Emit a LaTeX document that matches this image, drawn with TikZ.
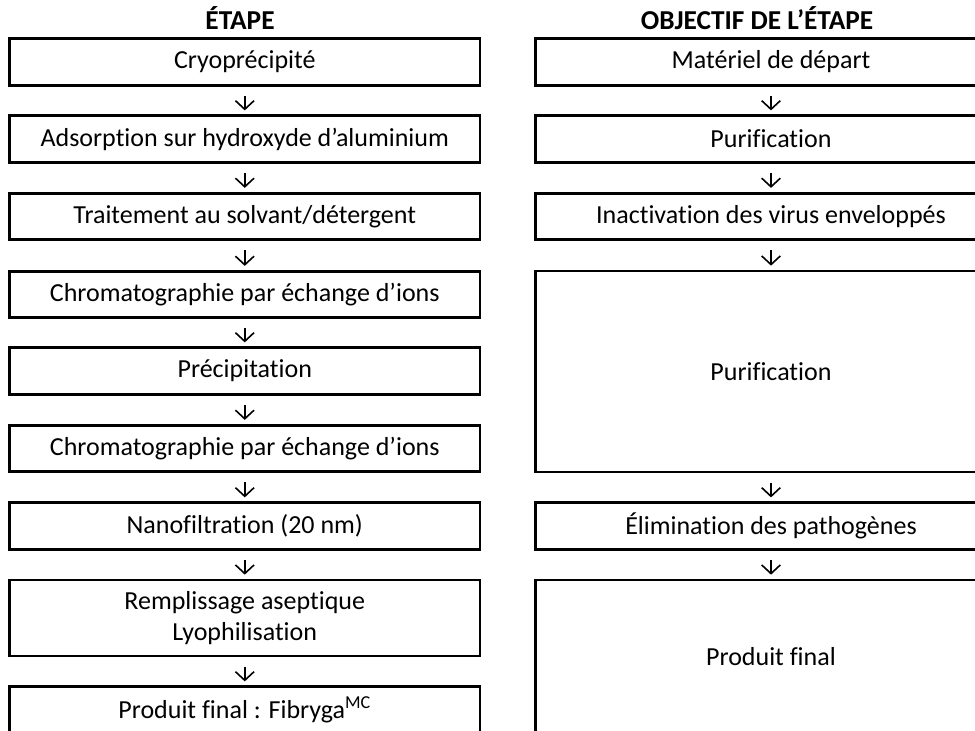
\documentclass[tikz,border=0pt]{standalone}
\usepackage{fontspec}
\setmainfont{Carlito}[Ligatures={NoCommon,NoContextual}]
\usetikzlibrary{arrows.meta,positioning}
\tikzset{
  every node/.style={font=\fontsize{19.5}{23}\selectfont,inner sep=0pt},
  head/.style={font=\bfseries\fontsize{20.5}{24}\selectfont},
  stage/.style={draw,line width=2pt,minimum width=352.9pt,minimum height=34.9pt,align=center},
  flowarrow/.style={-{Straight Barb[length=6.5pt,width=14pt,line width=1.2pt]},line width=1.2pt,shorten <=7pt,shorten >=3pt},
}

\begin{document}
\begin{tikzpicture}[x=.75pt,y=-.75pt]
\path[use as bounding box] (0,0) rectangle (975,731);
\clip (0,0) rectangle (975,731);
\node[head] (hstage) at (240,18) {ÉTAPE};
\node[head] (hgoal) at (757,18) {OBJECTIF DE L’ÉTAPE};
% Left column: process steps
\node[stage] (s1) at (244.75,62) {Cryoprécipité};
\node[stage] (s2) at (244.75,139) {Adsorption sur hydroxyde d’aluminium};
\node[stage] (s3) at (244.75,216.5) {Traitement au solvant/détergent};
\node[stage] (s4) at (244.75,294.5) {Chromatographie par échange d’ions};
\node[stage] (s5) at (244.75,371) {Précipitation};
\node[stage] (s6) at (244.75,448.5) {Chromatographie par échange d’ions};
\node[stage] (s7) at (244.75,526) {Nanofiltration (20 nm)};
\node[stage,minimum height=57pt] (s8) at (244.75,618) {Remplissage aseptique\\Lyophilisation};
\node[stage] (s9) at (244.75,710) {Produit final : Fibryga\textsuperscript{MC}};
% Right column: purpose of each step
\node[stage] (g1) at (771,62) {Matériel de départ};
\node[stage] (g2) at (771,139) {Purification};
\node[stage] (g3) at (771,216.5) {Inactivation des virus enveloppés};
\node[stage,minimum height=150.75pt] (g4) at (771,371.5) {Purification};
\node[stage] (g5) at (771,526) {Élimination des pathogènes};
\node[stage,minimum height=115.1pt] (g6) at (771,656.75) {Produit final};
\foreach \a/\b in {s1/s2,s2/s3,s3/s4,s4/s5,s5/s6,s6/s7,s7/s8,s8/s9,g1/g2,g2/g3,g3/g4,g4/g5,g5/g6}
  \draw[flowarrow] (\a) -- (\b);
\end{tikzpicture}
\end{document}
